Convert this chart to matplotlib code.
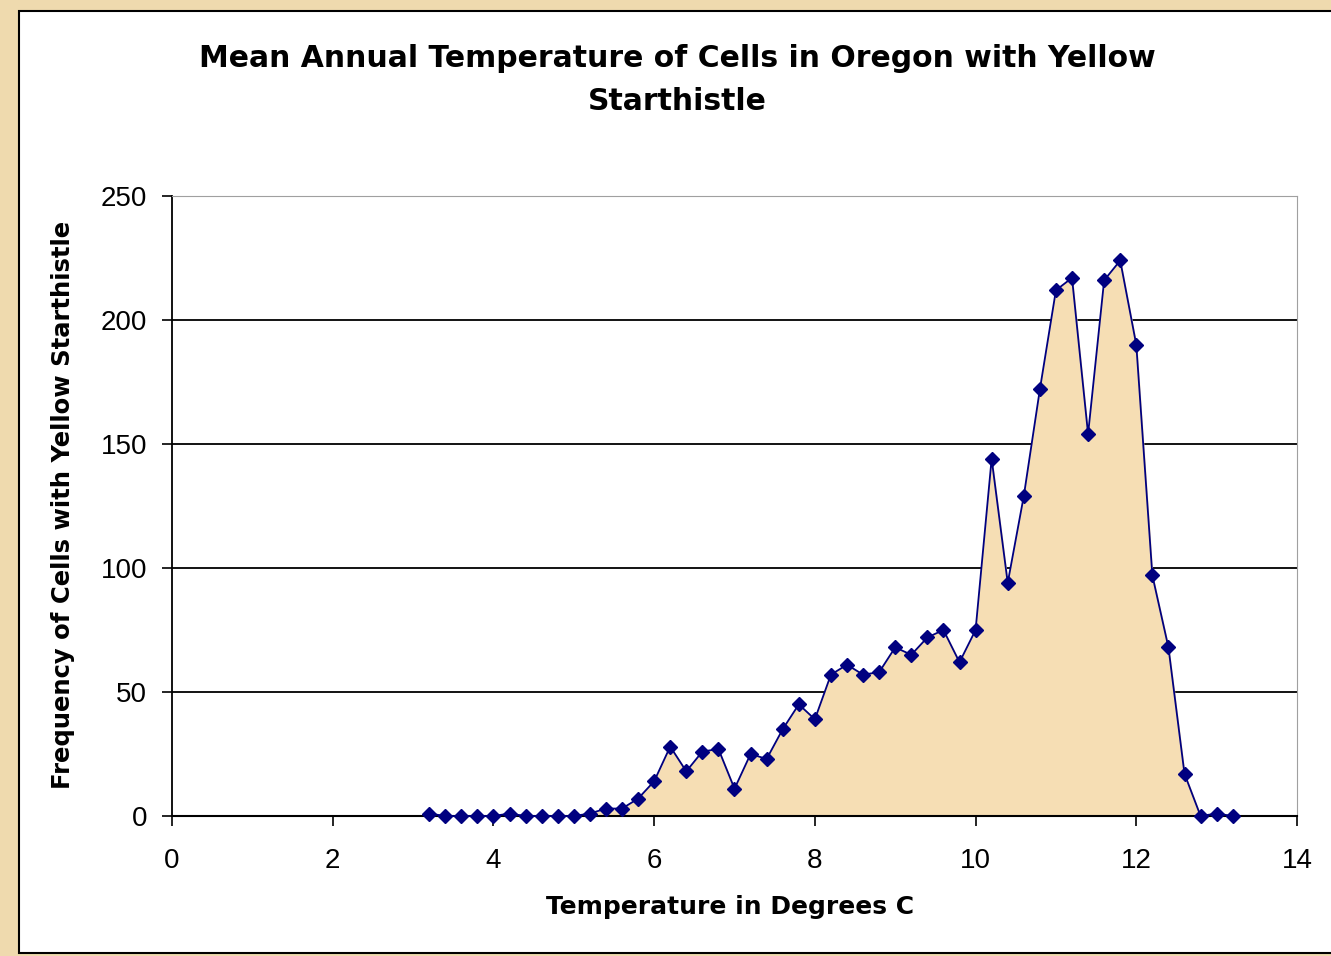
import matplotlib.pyplot as plt
from matplotlib.patches import Rectangle

plt.rcParams["font.family"] = ["Liberation Sans", "DejaVu Sans"]

# 温度 (0.2 刻み) と頻度
temperature = [
    3.2, 3.4, 3.6, 3.8, 4.0, 4.2, 4.4, 4.6, 4.8, 5.0,
    5.2, 5.4, 5.6, 5.8, 6.0, 6.2, 6.4, 6.6, 6.8, 7.0,
    7.2, 7.4, 7.6, 7.8, 8.0, 8.2, 8.4, 8.6, 8.8, 9.0,
    9.2, 9.4, 9.6, 9.8, 10.0, 10.2, 10.4, 10.6, 10.8, 11.0,
    11.2, 11.4, 11.6, 11.8, 12.0, 12.2, 12.4, 12.6, 12.8, 13.0,
    13.2,
]
frequency = [
    1, 0, 0, 0, 0, 1, 0, 0, 0, 0,
    1, 3, 3, 7, 14, 28, 18, 26, 27, 11,
    25, 23, 35, 45, 39, 57, 61, 57, 58, 68,
    65, 72, 75, 62, 75, 144, 94, 129, 172, 212,
    217, 154, 216, 224, 190, 97, 68, 17, 0, 1,
    0,
]
x_ticks = [0, 2, 4, 6, 8, 10, 12, 14]
y_ticks = [0, 50, 100, 150, 200, 250]

fig = plt.figure(figsize=(13.31, 9.56), dpi=100)
fig.patch.set_facecolor("#EFDAAE")

# 白いチャート領域と枠線 (軸より後ろ)
fig.patches.append(
    Rectangle((19 / 1331, 3 / 956), 1.0, 942 / 956, transform=fig.transFigure,
              facecolor="white", edgecolor="black", linewidth=1.5, zorder=-10)
)

ax = fig.add_axes((172 / 1331, 1 - 816 / 956, 1125 / 1331, 620 / 956))
ax.fill_between(temperature, frequency, 0, color="#F6DEB4", zorder=2)
ax.plot(temperature, frequency, color="#000080", linewidth=1.3, marker="D",
        markersize=7, zorder=3, clip_on=False)

ax.set_xlim(0, 14)
ax.set_ylim(0, 250)
ax.set_xticks(x_ticks)
ax.set_yticks(y_ticks)
ax.tick_params(axis="both", direction="out", length=7, width=1.2,
               labelsize=20, colors="black")
ax.tick_params(axis="y", pad=11)
ax.tick_params(axis="x", pad=16)

for y in y_ticks[1:-1]:
    ax.axhline(y, color="black", linewidth=1.3, zorder=1)

ax.spines["left"].set_color("black")
ax.spines["bottom"].set_color("black")
ax.spines["left"].set_linewidth(1.3)
ax.spines["bottom"].set_linewidth(1.5)
ax.spines["top"].set_color("#A0A0A0")
ax.spines["right"].set_color("#A0A0A0")

ax.set_xlabel("Temperature in Degrees C", fontsize=18, fontweight="bold",
              family="DejaVu Sans")
ax.set_ylabel("Frequency of Cells with Yellow Starthistle", fontsize=17.5,
              fontweight="bold", family="DejaVu Sans")
ax.xaxis.set_label_coords((730 - 172) / 1125, (816 - 907) / 620)
ax.xaxis.label.set_va("center")
ax.yaxis.set_label_coords((63 - 172) / 1125, (816 - 505) / 620)
ax.yaxis.label.set_va("center")

fig.text(677 / 1331, 1 - 80 / 956,
         "Mean Annual Temperature of Cells in Oregon with Yellow\nStarthistle",
         ha="center", va="center", fontsize=21.5, fontweight="bold",
         family="DejaVu Sans", linespacing=1.62)

fig.savefig("out.png", dpi=100, facecolor=fig.get_facecolor())
